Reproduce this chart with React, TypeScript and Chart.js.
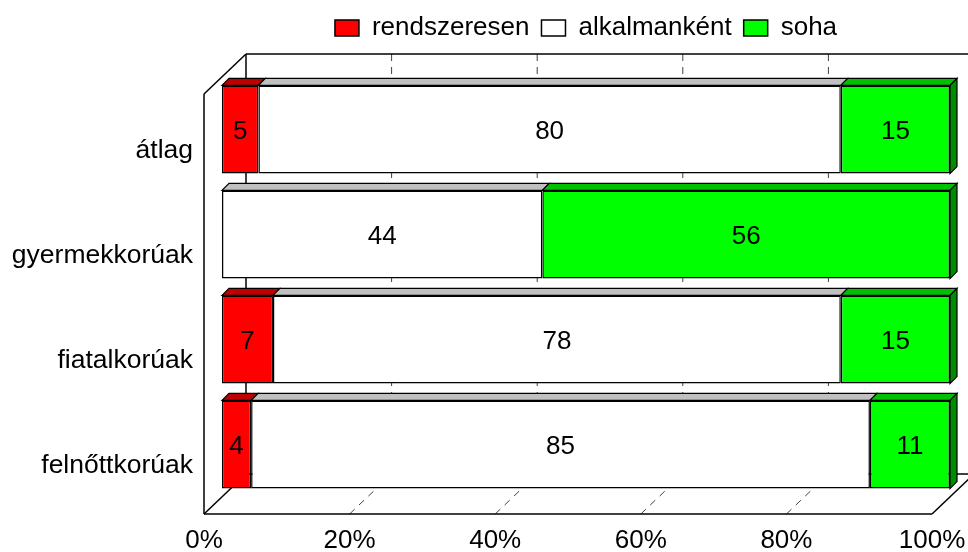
import React, { useEffect, useRef } from 'react';
import { Chart, registerables } from 'chart.js';

Chart.register(...registerables);

const categories = ['átlag', 'gyermekkorúak', 'fiatalkorúak', 'felnőttkorúak'];
const seriesNames = ['rendszeresen', 'alkalmanként', 'soha'];
const rendszeresen = [5, 0, 7, 4];
const alkalmankent = [80, 44, 78, 85];
const soha = [15, 56, 15, 11];
const xTickValues = [0, 20, 40, 60, 80, 100];

const faceColors = ['#FF0000', '#FFFFFF', '#00FF00'];
const topColors = ['#BF0000', '#C0C0C0', '#00C000'];
const sideColors = ['#990000', '#A0A0A0', '#008C00'];

const FONT = '"Liberation Sans", Arial, sans-serif';
const FS = 26;
const FRONT = { dx: -18, dy: 17 };
const BACK = { dx: 24, dy: -23 };
const BAR_D = 7;

const frame3d = {
  id: 'frame3d',
  beforeDatasetsDraw(chart: any) {
    const { ctx, chartArea: a, scales } = chart;
    const x = scales.x;
    const px = (v: number) => x.getPixelForValue(v);
    const L = px(0);
    const R = px(100);
    const line = (x1: number, y1: number, x2: number, y2: number) => {
      ctx.beginPath();
      ctx.moveTo(x1, y1);
      ctx.lineTo(x2, y2);
      ctx.stroke();
    };
    ctx.save();
    ctx.strokeStyle = '#404040';
    ctx.lineWidth = 1;
    ctx.setLineDash([7, 6]);
    x.ticks.forEach((t: any) => {
      if (t.value <= 0 || t.value >= 100) return;
      const p = px(t.value);
      line(p + BACK.dx, a.top + BACK.dy, p + BACK.dx, a.bottom + BACK.dy);
      line(p + FRONT.dx, a.bottom + FRONT.dy, p + BACK.dx, a.bottom + BACK.dy);
    });
    ctx.setLineDash([]);
    ctx.strokeStyle = '#000';
    ctx.lineWidth = 1.5;
    line(L + BACK.dx, a.top + BACK.dy, R + BACK.dx, a.top + BACK.dy);
    line(L + BACK.dx, a.top + BACK.dy, L + BACK.dx, a.bottom + BACK.dy);
    line(L + BACK.dx, a.bottom + BACK.dy, R + BACK.dx, a.bottom + BACK.dy);
    line(L + FRONT.dx, a.top + FRONT.dy, L + FRONT.dx, a.bottom + FRONT.dy);
    line(L + FRONT.dx, a.top + FRONT.dy, L + BACK.dx, a.top + BACK.dy);
    line(L + FRONT.dx, a.bottom + FRONT.dy, L + BACK.dx, a.bottom + BACK.dy);
    line(L + FRONT.dx, a.bottom + FRONT.dy, R + FRONT.dx, a.bottom + FRONT.dy);
    line(R + FRONT.dx, a.bottom + FRONT.dy, R + BACK.dx, a.bottom + BACK.dy);
    ctx.restore();
  },
  afterDatasetsDraw(chart: any) {
    const { ctx } = chart;
    const n = chart.data.labels.length;
    const dsCount = chart.data.datasets.length;
    ctx.save();
    for (let i = 0; i < n; i++) {
      let last = -1;
      for (let d = 0; d < dsCount; d++) {
        if ((chart.data.datasets[d].data[i] as number) > 0) last = d;
      }
      for (let d = 0; d < dsCount; d++) {
        const val = chart.data.datasets[d].data[i] as number;
        if (!(val > 0)) continue;
        const el = chart.getDatasetMeta(d).data[i];
        const p = el.getProps(['x', 'y', 'base', 'height'], true);
        const x0 = Math.min(p.x, p.base);
        const x1 = Math.max(p.x, p.base);
        const top = p.y - p.height / 2;
        const bottom = p.y + p.height / 2;
        ctx.lineWidth = 1.2;
        ctx.strokeStyle = '#000';
        ctx.lineJoin = 'miter';
        ctx.beginPath();
        ctx.moveTo(x0, top);
        ctx.lineTo(x1, top);
        ctx.lineTo(x1 + BAR_D, top - BAR_D);
        ctx.lineTo(x0 + BAR_D, top - BAR_D);
        ctx.closePath();
        ctx.fillStyle = topColors[d];
        ctx.fill();
        ctx.stroke();
        if (d === last) {
          ctx.beginPath();
          ctx.moveTo(x1, top);
          ctx.lineTo(x1 + BAR_D, top - BAR_D);
          ctx.lineTo(x1 + BAR_D, bottom - BAR_D);
          ctx.lineTo(x1, bottom);
          ctx.closePath();
          ctx.fillStyle = sideColors[d];
          ctx.fill();
          ctx.stroke();
        }
        ctx.fillStyle = '#000';
        ctx.font = `${FS}px ${FONT}`;
        ctx.textAlign = 'center';
        ctx.textBaseline = 'middle';
        ctx.fillText(String(val), (x0 + x1) / 2, p.y + 2);
      }
    }
    ctx.restore();
  },
};

export default function App() {
  const ref = useRef<HTMLCanvasElement>(null);
  useEffect(() => {
    const canvas = ref.current!;
    const seriesValues = [rendszeresen, alkalmankent, soha];
    const chart = new Chart(canvas, {
      type: 'bar',
      data: {
        labels: categories,
        datasets: seriesNames.map((name, k) => ({
          label: name,
          data: seriesValues[k],
          backgroundColor: faceColors[k],
          borderColor: '#000',
          borderWidth: 1.5,
          borderSkipped: false,
          barPercentage: 0.84,
          categoryPercentage: 1,
        })),
      },
      options: {
        indexAxis: 'y',
        responsive: false,
        animation: false,
        events: [],
        layout: { padding: { left: 0, right: 18, top: 3, bottom: 0 } },
        plugins: {
          legend: {
            position: 'top',
            fullSize: false,
            labels: {
              color: '#000',
              font: { size: FS, family: FONT },
              boxWidth: 24,
              boxHeight: 16,
              padding: 12,
            },
          },
          title: {
            display: true,
            text: '',
            weight: 500,
            font: { size: 20, family: FONT },
            padding: { top: 0, bottom: 2 },
          },
          tooltip: { enabled: false },
        },
        scales: {
          x: {
            stacked: true,
            min: 0,
            max: 100,
            afterBuildTicks: (s: any) => {
              s.ticks = xTickValues.map((v) => ({ value: v }));
            },
            ticks: {
              color: '#000',
              font: { size: FS, family: FONT },
              labelOffset: FRONT.dx,
              padding: 28,
              maxRotation: 0,
              autoSkip: false,
              callback: (v: any) => `${v}%`,
            },
            grid: { display: false, drawTicks: false },
            border: { display: false },
            afterFit: (s: any) => {
              s.height = 55;
              s.paddingLeft = 0;
              s.paddingRight = 0;
            },
          },
          y: {
            stacked: true,
            ticks: {
              color: '#000',
              font: { size: 26.5, family: FONT },
              labelOffset: FRONT.dy + 4,
              padding: 29,
              autoSkip: false,
            },
            grid: { display: false, drawTicks: false },
            border: { display: false },
            afterFit: (s: any) => {
              s.width = 222;
              s.paddingTop = 0;
              s.paddingBottom = 0;
            },
          },
        },
      },
      plugins: [frame3d],
    } as any);
    return () => chart.destroy();
  }, []);
  return (
    <div style={{ position: 'fixed', left: 0, top: 0, width: 968, height: 552, background: '#fff' }}>
      <canvas ref={ref} width={968} height={552} />
    </div>
  );
}
